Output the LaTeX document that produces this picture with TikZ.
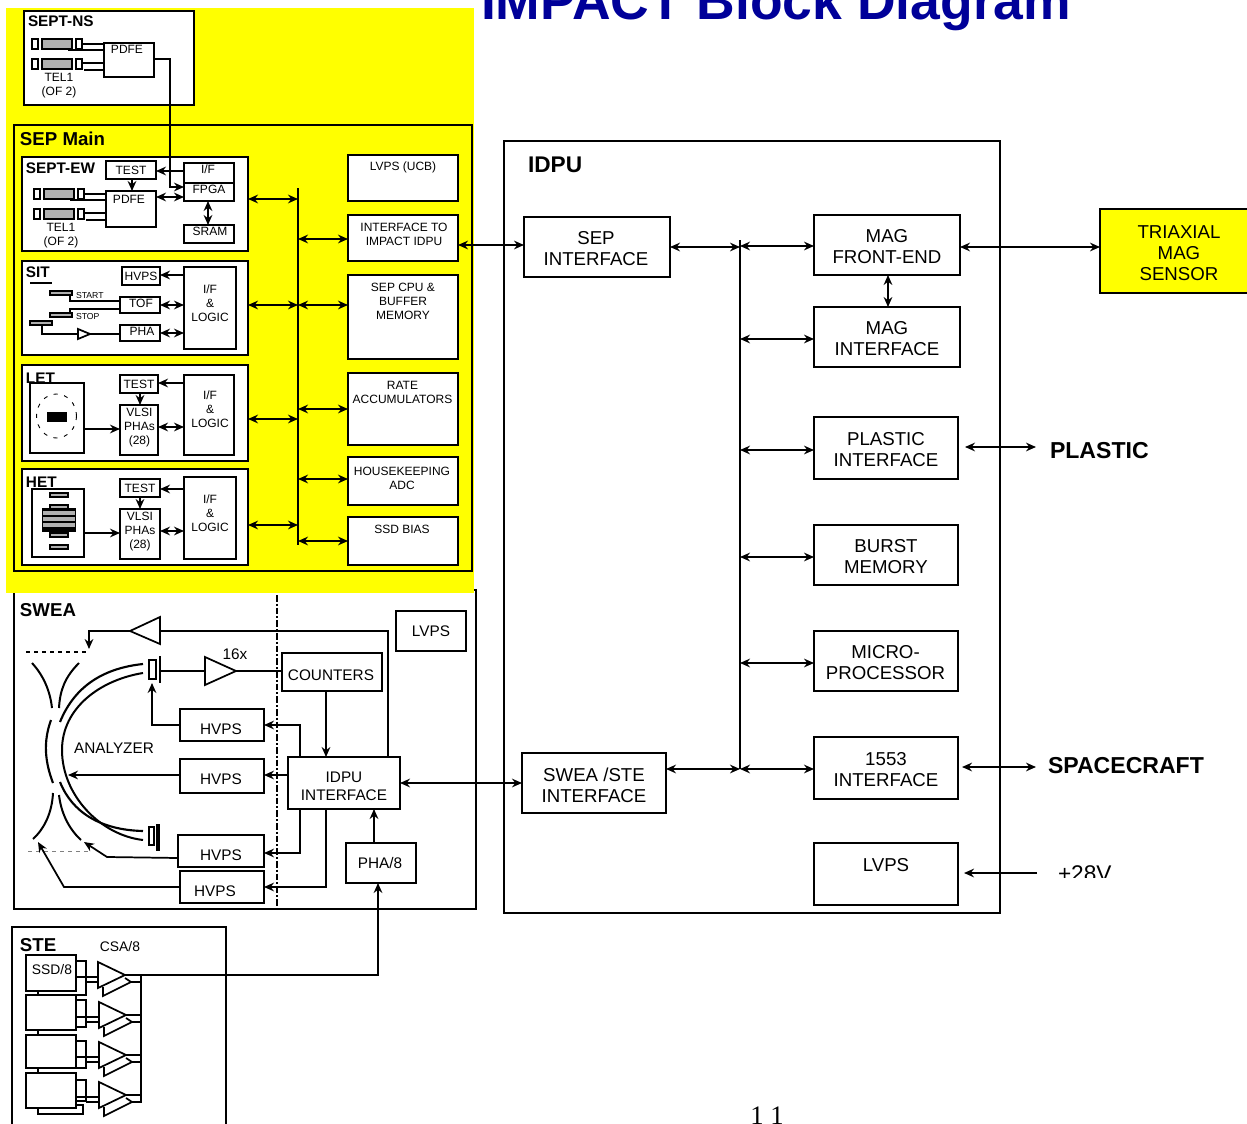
\documentclass[tikz,border=0pt]{standalone}
\usepackage{fontspec}
\setmainfont{Liberation Sans}
\newfontfamily\pagefont{Liberation Serif}
\usepackage{xcolor}
\usetikzlibrary{arrows.meta,positioning,calc}
\definecolor{sepyellow}{RGB}{255,255,0}
\definecolor{titleblue}{RGB}{0,0,153}
\definecolor{detgray}{RGB}{176,176,176}

\begin{document}
\begin{tikzpicture}[x=0.75pt,y=-0.75pt,line width=1.3pt,
  every node/.style={inner sep=0pt,outer sep=0pt,align=center},
  fbig/.style={font=\fontsize{14}{15.8}\selectfont},
  fmid/.style={font=\fontsize{11.5}{13.5}\selectfont},
  fsml/.style={font=\fontsize{9}{10.5}\selectfont},
  fcsa/.style={font=\fontsize{10.4}{12}\selectfont},
  ftiny/.style={font=\fontsize{6.5}{8}\selectfont},
  box/.style={draw,fill=white,anchor=north west,line width=1.4pt},
  wh/.style 2 args={minimum width=#1*0.75pt,minimum height=#2*0.75pt},
  head/.style={anchor=west,font=\fontsize{14}{16}\selectfont\bfseries},
  subhead/.style={anchor=west,font=\fontsize{11.5}{13}\selectfont\bfseries},
  side/.style={anchor=base west,font=\fontsize{17.3}{19}\selectfont\bfseries},
  arr/.style={-{Stealth[length=7.5pt,width=6.5pt]}},
  dbl/.style={{Stealth[length=7.5pt,width=6.5pt]}-{Stealth[length=7.5pt,width=6.5pt]}},
  det/.style={draw,fill=detgray,line width=0.9pt}]
\clip (0,0) rectangle (1247,1124);

% SWEA goes under the yellow field
\node[box,wh={462}{319}] (swea) at (14,590) {};
\fill[sepyellow] (6,8) rectangle (474,593);

\node[font=\fontsize{40.1}{44}\selectfont\bfseries,text=titleblue,anchor=base west] (title) at (481,19.5) {IMPACT Block Diagram};

% SEPT-NS
\node[box,wh={170}{94}] (septns) at (24,11) {};
\node[subhead] (septnst) at (28,21) {SEPT-NS};
\node[box,wh={50}{34}] (pdfens) at (104,43) {};
\node[fsml] (pdfenst) at (127,49) {PDFE};
\node[fsml] (telns) at (59,86) {TEL1\\(OF 2)};

% SEP Main
\node[box,fill=none,wh={458}{446}] (sepmain) at (14,125) {};
\node[head] (sepmaint) at (20,139) {SEP Main};

% SEPT-EW
\node[box,wh={226}{94}] (septew) at (22,157) {};
\node[subhead] (septewt) at (26,168) {SEPT-EW};
\node[box,wh={50}{18},fsml] (testew) at (106,161) {TEST};
\node[box,wh={50}{20}] (ifew) at (184,163) {};
\node[fsml] (ifewt) at (208,169) {I/F};
\node[box,wh={50}{18}] (fpga) at (184,183) {};
\node[fsml] (fpgat) at (209,189) {FPGA};
\node[box,wh={50}{36}] (pdfeew) at (106,191) {};
\node[fsml] (pdfeewt) at (129,199) {PDFE};
\node[box,wh={50}{18}] (sram) at (184,225) {};
\node[fsml] (sramt) at (210,231) {SRAM};
\node[fsml] (telew) at (61,236) {TEL1\\(OF 2)};

% telescopes of both SEPT units
\foreach \dx/\dy in {0/0,2/150} {
  \begin{scope}[shift={(\dx,\dy)}]
    \foreach \yy in {39,59} {
      \draw[det,fill=white] (32,\yy) rectangle (38,\yy+10);
      \draw[det] (42,\yy) rectangle (72,\yy+10);
      \draw[det,fill=white] (76,\yy) rectangle (82,\yy+10);
    }
    \draw (82,44)--(104,44); \draw (68,50)--(104,50);
    \draw (82,63)--(104,63); \draw (84,70)--(104,70);
  \end{scope}
}

% SIT
\node[box,wh={226}{94}] (sit) at (22,261) {};
\node[subhead] (sitt) at (26,272) {SIT};
\draw (30,283)--(52,283);
\node[box,wh={38}{18},fsml] (hvpssit) at (122,267) {HVPS};
\node[box,wh={40}{16}] (tof) at (120,297) {};
\node[fsml] (toft) at (141,303) {TOF};
\node[box,wh={40}{16}] (phasit) at (120,325) {};
\node[fsml] (phasitt) at (142,331) {PHA};
\node[box,wh={52}{82}] (ifsit) at (184,267) {};
\node[fsml] (ifsitt) at (210,303) {I/F\\\&\\LOGIC};
\draw[det] (50,291) rectangle (72,295);
\draw[det] (50,313) rectangle (72,317);
\draw[det] (30,321) rectangle (52,325);
\node[ftiny,anchor=west] (start) at (76,296) {START};
\node[ftiny,anchor=west] (stop) at (76,317) {STOP};
\draw (70,295)--(70,301)--(tof.west|-0,301);
\draw (70,313)--(70,309)--(tof.west|-0,309);
\draw[fill=white] (78,329)--(78,339)--(90,334)--cycle;
\draw (42,325)--(42,334)--(78,334);
\draw (90,334)--(phasit.west|-0,334);

% LET
\node[box,wh={226}{96}] (let) at (22,365) {};
\node[subhead] (lett) at (26,378) {LET};
\node[box,wh={54}{70}] (letdet) at (30,383) {};
\fill (47,412) rectangle (67,422);
\draw[line width=0.7pt,dash pattern=on 3pt off 5pt] (56.5,416) ellipse [x radius=20,y radius=22];
\node[box,wh={38}{18},fsml] (testlet) at (120,375) {TEST};
\node[box,wh={38}{50}] (vlsilet) at (120,405) {};
\node[fsml] (vlsilett) at (139.5,428) {VLSI\\PHAs\\(28)};
\node[box,wh={50}{80}] (iflet) at (184,375) {};
\node[fsml] (iflett) at (210,409) {I/F\\\&\\LOGIC};

% HET
\node[box,wh={226}{96}] (het) at (22,469) {};
\node[subhead] (hett) at (26,482) {HET};
\node[box,wh={52}{68}] (hetdet) at (32,489) {};
\foreach \yy in {493,505,533,545} \draw[det] (50,\yy) rectangle (68,\yy+4);
\fill (42,508) rectangle (76,532);
\foreach \yy in {511,517,523} \fill[detgray] (43,\yy) rectangle (75,\yy+4);
\node[box,wh={40}{18},fsml] (testhet) at (120,479) {TEST};
\node[box,wh={40}{50}] (vlsihet) at (120,509) {};
\node[fsml] (vlsihett) at (140,532) {VLSI\\PHAs\\(28)};
\node[box,wh={52}{82}] (ifhet) at (184,477) {};
\node[fsml] (ifhett) at (210,513) {I/F\\\&\\LOGIC};

% right hand column of SEP Main
\node[box,wh={110}{46}] (lvpsucb) at (348,155) {};
\node[fsml] (lvpsucbt) at (403,167) {LVPS (UCB)};
\node[box,wh={110}{46}] (ifidpu) at (348,215) {};
\node[fsml] (ifidput) at (404,234) {INTERFACE TO\\IMPACT IDPU};
\node[box,wh={110}{84}] (sepcpu) at (348,275) {};
\node[fsml] (sepcput) at (403,301) {SEP CPU \&\\BUFFER\\MEMORY};
\node[box,wh={110}{72}] (rate) at (348,373) {};
\node[fsml] (ratet) at (402.5,392) {RATE\\ACCUMULATORS};
\node[box,wh={110}{48}] (hk) at (348,457) {};
\node[fsml] (hkt) at (402,478) {HOUSEKEEPING\\ADC};
\node[box,wh={110}{48}] (ssdbias) at (348,517) {};
\node[fsml] (ssdbiast) at (402,529) {SSD BIAS};

\coordinate (septop) at (298,188);
\coordinate (sepbot) at (298,545);
\draw[line width=1.5pt] (septop)--(sepbot);
\foreach \nd/\yy in {septew/199,sit/305,let/419,het/525}
  \draw[dbl] (\nd.east|-0,\yy)--(septop|-0,\yy);
\foreach \nd/\yy in {ifidpu/239,sepcpu/305,rate/409,hk/479,ssdbias/541}
  \draw[dbl] (septop|-0,\yy)--(\nd.west|-0,\yy);

% inside the units
\draw[arr] (pdfens.east|-0,59)--(170,59)--(170,187)--(fpga.west|-0,187);
\draw[arr] (ifew.west|-0,171)--(testew.east|-0,171);
\draw[arr] (testew.south-|132,0)--(pdfeew.north-|132,0);
\draw[dbl] (pdfeew.east|-0,197)--(fpga.west|-0,197);
\draw[dbl] (fpga.south-|208,0)--(sram.north-|208,0);
\draw[arr] (ifsit.west|-0,275)--(hvpssit.east|-0,275);
\draw[dbl] (tof.east|-0,305)--(ifsit.west|-0,305);
\draw[dbl] (phasit.east|-0,333)--(ifsit.west|-0,333);
\draw[arr] (iflet.west|-0,383)--(testlet.east|-0,383);
\draw[arr] (testlet.south-|140,0)--(vlsilet.north-|140,0);
\draw[arr] (letdet.east|-0,429)--(vlsilet.west|-0,429);
\draw[dbl] (vlsilet.east|-0,427)--(iflet.west|-0,427);
\draw[arr] (ifhet.west|-0,489)--(testhet.east|-0,489);
\draw[arr] (testhet.south-|140,0)--(vlsihet.north-|140,0);
\draw[arr] (hetdet.east|-0,533)--(vlsihet.west|-0,533);
\draw[dbl] (vlsihet.east|-0,531)--(ifhet.west|-0,531);

% SWEA
\node[head] (sweat) at (20,610) {SWEA};
\node[box,wh={70}{40},fmid] (lvpssw) at (396,611) {LVPS};
\draw[line width=1pt,dash pattern=on 5pt off 1.5pt on 1.5pt off 1.5pt] (277,595)--(277,907);
\node[box,wh={100}{38}] (counters) at (282,653) {};
\node[fmid] (counterst) at (331,675) {COUNTERS};
\node[box,wh={112}{52},fmid] (idpuif) at (288,757) {};
\node[fmid] (idpuift) at (344,786) {IDPU\\INTERFACE};
\node[box,wh={84}{32}] (hvpsa) at (180,709) {};
\node[fmid] (hvpsat) at (221,729) {HVPS};
\node[box,wh={84}{34}] (hvpsb) at (180,759) {};
\node[fmid] (hvpsbt) at (221,779) {HVPS};
\node[box,wh={86}{32}] (hvpsc) at (178,835) {};
\node[fmid] (hvpsct) at (221,855) {HVPS};
\node[box,wh={84}{32}] (hvpsd) at (180,871) {};
\node[fmid] (hvpsdt) at (215,891) {HVPS};
\node[box,wh={70}{40}] (pha) at (346,843) {};
\node[fmid] (phat) at (380,863) {PHA/8};
\node[fmid] (ana) at (114,748) {ANALYZER};
\node[fmid] (sixteen) at (235,654) {16x};

% amplifiers
\draw (388,757)--(388,631)--(160,631);
\draw (160,617)--(160,644)--(130,631)--cycle;
\draw[arr] (130,631)--(89,631)--(89,649);
\draw[dashed,line width=1pt] (26,652)--(88,652);
\draw (205,657)--(205,685)--(236,671)--cycle;
\draw (160,671)--(205,671);
\draw (236,671)--(counters.west|-0,671);
\draw[fill=white] (149,660) rectangle (156,679);
\draw[line width=1.8pt] (160,656)--(160,683);
\draw[fill=white] (149,827) rectangle (154,845);
\draw[line width=2.4pt] (158,824)--(158,851);

% analyzer plates
\draw[line width=1.6pt] (143,664) .. controls (105,668) and (75,685) .. (60,722);
\draw[line width=1.6pt] (60,782) .. controls (72,812) and (100,830) .. (143,831);
\draw[line width=1.5pt] (143,673) .. controls (100,680) and (62,708) .. (62,750) .. controls (62,795) and (100,835) .. (143,840);
\draw[line width=1.5pt] (32,663) .. controls (43,675) and (50,690) .. (52,708);
\draw[line width=1.5pt] (79,663) .. controls (65,677) and (60,690) .. (59,708);
\draw[line width=1.6pt] (51,720) .. controls (43,742) and (45,762) .. (53,783);
\draw[line width=1.5pt] (53,793) .. controls (52,812) and (45,828) .. (33,839);
\draw[line width=1.5pt] (59,795) .. controls (61,812) and (68,828) .. (81,840);
\draw[dashed,gray,line width=0.6pt] (28,851)--(90,851);

\draw[arr] (counters.south-|326,0)--(idpuif.north-|326,0);
\draw[arr] (idpuif.north-|300,0)--(300,725)--(hvpsa.east|-0,725);
\draw[arr] (idpuif.west|-0,775)--(hvpsb.east|-0,775);
\draw[arr] (idpuif.south-|300,0)--(300,853)--(hvpsc.east|-0,853);
\draw[arr] (idpuif.south-|326,0)--(326,887)--(hvpsd.east|-0,887);
\draw[arr] (hvpsa.west|-0,725)--(152,725)--(152,683);
\draw[arr] (hvpsb.west|-0,775)--(68,775);
\draw[arr] (hvpsc.west|-0,858)--(107,857)--(84,842);
\draw[arr] (hvpsd.west|-0,887)--(64,887)--(38,842);
\draw[arr] (pha.north-|374,0)--(idpuif.south-|374,0);

% STE
\node[box,wh={214}{220}] (ste) at (12,927) {};
\node[head] (stet) at (20,945) {STE};
\node[fcsa] (csa) at (120,947) {CSA/8};
\draw (38,1108)--(38,1114)--(83,1114)--(83,1105)--(76,1105);
\foreach \yy in {991,1030,1068} \draw (38,\yy)--(38,\yy+5);
\node[box,wh={50}{36}] (ssda) at (26,955) {};
\node[fcsa] (ssdat) at (52,970) {SSD/8};
\node[box,wh={50}{35}] (ssdb) at (26,995) {};
\node[box,wh={50}{33}] (ssdc) at (26,1035) {};
\node[box,wh={50}{35}] (ssdd) at (26,1073) {};
\draw (ssda.east|-0,961)--(86,961)--(86,995)--(76,995);
\draw (ssdb.east|-0,1000)--(86,1000)--(86,1027)--(76,1027);
\draw (ssdc.east|-0,1041)--(86,1041)--(86,1068)--(76,1068);
\draw (ssdd.east|-0,1080)--(86,1080)--(86,1101)--(76,1101);
\foreach \xa/\yy in {98/975,99/1015,99/1055,99/1095} {
  \draw (76,\yy+2)--(\xa,\yy+2);
  \draw (86,\yy+7)--(\xa,\yy+7);
  \draw (\xa+5,\yy+12)--(\xa+5,\yy+21)--(\xa+33,\yy+7)--(\xa+27,\yy+3);
  \draw[fill=white] (\xa,\yy-13)--(\xa,\yy+13)--(\xa+27,\yy)--cycle;
  \draw (\xa+27,\yy)--(141,\yy);
  \draw (\xa+33,\yy+7)--(141,\yy+7);
}
\draw (141,975)--(141,1103);
\draw[arr] (141,975)--(378,975)--(pha.south-|378,0);

% IDPU
\node[box,wh={496}{772}] (idpu) at (504,141) {};
\node[anchor=west,font=\fontsize{17}{19}\selectfont\bfseries] (idput) at (528,165) {IDPU};
\node[box,wh={146}{60}] (sepif) at (524,217) {};
\node[fbig] (sepift) at (596,249) {SEP\\INTERFACE};
\node[box,wh={144}{60}] (sweaste) at (522,753) {};
\node[fbig] (sweastet) at (594,785) {SWEA /STE\\INTERFACE};
\node[box,wh={146}{60}] (magfe) at (814,215) {};
\node[fbig] (magfet) at (887,246.5) {MAG\\FRONT-END};
\node[box,wh={146}{60}] (magif) at (814,307) {};
\node[fbig] (magift) at (887,339) {MAG\\INTERFACE};
\node[box,wh={144}{62}] (plastic) at (814,417) {};
\node[fbig] (plastict) at (886,450) {PLASTIC\\INTERFACE};
\node[box,wh={144}{60}] (burst) at (814,525) {};
\node[fbig] (burstt) at (886,556.5) {BURST\\MEMORY};
\node[box,wh={144}{60}] (micro) at (814,631) {};
\node[fbig] (microt) at (885.5,663) {MICRO-\\PROCESSOR};
\node[box,wh={144}{62}] (ifmil) at (814,737) {};
\node[fbig] (ifmilt) at (886,770) {1553\\INTERFACE};
\node[box,wh={144}{62}] (lvpsid) at (814,843) {};
\node[fbig] (lvpsidt) at (886,865) {LVPS};
\node[box,wh={148}{84},fill=sepyellow] (triax) at (1100,209) {};
\node[fbig] (triaxt) at (1179,253) {TRIAXIAL\\MAG\\SENSOR};

\coordinate (idtop) at (740,240);
\coordinate (idbot) at (740,769);
\draw[line width=1.5pt] (idtop)--(idbot);
\draw[dbl] (ifidpu.east|-0,245)--(sepif.west|-0,245);
\draw[dbl] (sepif.east|-0,247)--(idtop|-0,247);
\draw[dbl] (sweaste.east|-0,769)--(idtop|-0,769);
\draw[dbl] (idpuif.east|-0,783)--(sweaste.west|-0,783);
\foreach \nd/\yy in {magfe/246,magif/339,plastic/450,burst/557,micro/663,ifmil/769}
  \draw[dbl] (idtop|-0,\yy)--(\nd.west|-0,\yy);
\draw[dbl] (magfe.south-|888,0)--(magif.north-|888,0);
\draw[dbl] (magfe.east|-0,247)--(triax.west|-0,247);

% outside IDPU
\node[anchor=west,font=\fontsize{17.3}{19}\selectfont\bfseries] (plasticlab) at (1050,451) {PLASTIC};
\coordinate (plasticend) at (1036,447);
\coordinate (plasticin) at (965,447);
\draw[dbl] (plasticin)--(plasticend);
\coordinate (scend) at (1036,767);
\coordinate (scin) at (962,767);
\draw[dbl] (scin)--(scend);
\begin{scope}
  \clip (1040,745) rectangle (1220,773);
  \node[side] (sc) at (1048,773.5) {SPACECRAFT};
\end{scope}
\coordinate (pwrend) at (1037,873);
\coordinate (pwrin) at (964,873);
\draw[arr] (pwrend)--(pwrin);
\begin{scope}
  \clip (1050,850) rectangle (1125,877.5);
  \node[anchor=base west,font=\fontsize{17}{19}\selectfont] (pwr) at (1058,881) {+28V};
\end{scope}
\node[anchor=base,font=\fontsize{20}{22}\selectfont\pagefont] (pagenum) at (767,1124) {1 1};
\end{tikzpicture}
\end{document}
